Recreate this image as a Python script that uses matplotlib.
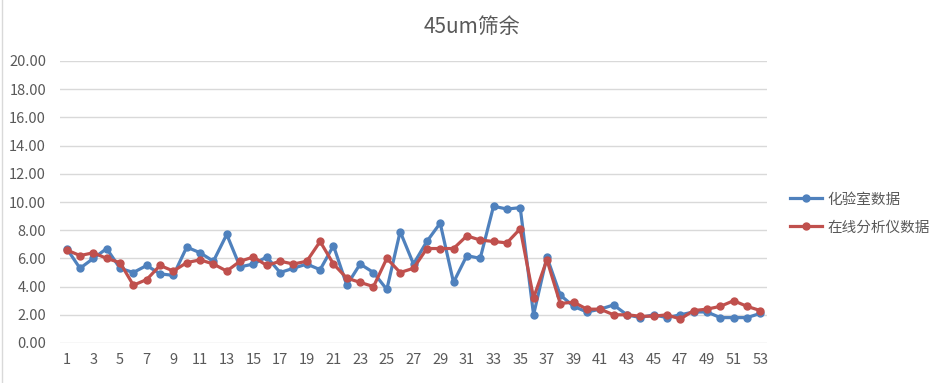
import numpy as np
import matplotlib.pyplot as plt
from matplotlib.lines import Line2D

plt.rcParams['font.family'] = ['Noto Sans CJK SC', 'DejaVu Sans']

# datos
x = np.arange(1, 54)
lab = [6.7, 5.3, 6.0, 6.7, 5.3, 5.0, 5.5, 4.9, 4.8, 6.8,
       6.4, 5.8, 7.7, 5.4, 5.6, 6.1, 5.0, 5.3, 5.6, 5.2,
       6.9, 4.1, 5.6, 5.0, 3.8, 7.9, 5.6, 7.2, 8.5, 4.3,
       6.2, 6.0, 9.7, 9.5, 9.6, 2.0, 6.1, 3.4, 2.6, 2.2,
       2.4, 2.7, 2.0, 1.8, 2.0, 1.8, 2.0, 2.2, 2.2, 1.8,
       1.8, 1.8, 2.1]
online = [6.6, 6.2, 6.4, 6.0, 5.7, 4.1, 4.5, 5.5, 5.1, 5.7,
          5.9, 5.6, 5.1, 5.8, 6.1, 5.5, 5.8, 5.6, 5.8, 7.2,
          5.6, 4.6, 4.3, 4.0, 6.0, 5.0, 5.3, 6.7, 6.7, 6.7,
          7.6, 7.3, 7.2, 7.1, 8.1, 3.2, 5.9, 2.8, 2.9, 2.4,
          2.4, 2.0, 2.0, 1.9, 1.9, 2.0, 1.7, 2.3, 2.4, 2.6,
          3.0, 2.6, 2.3]
series_names = ['化验室数据', '在线分析仪数据']
title = '45um筛余'

fig = plt.figure(figsize=(9.43, 3.83), dpi=100)
ax = fig.add_axes([60/943, 1 - 343/383, 707/943, 282/383])

ax.plot(x, lab, color='#4F81BD', linewidth=2.3, marker='o', markersize=5, label=series_names[0])
ax.plot(x, online, color='#C0504D', linewidth=2.3, marker='o', markersize=5, label=series_names[1])

ax.set_xlim(0.5, 53.5)
ax.set_ylim(0, 20)
ax.set_yticks(np.arange(0, 21, 2))
ax.set_yticklabels([f'{v:.2f}' for v in np.arange(0, 21, 2)])
ax.set_xticks(np.arange(1, 54, 2))
ax.tick_params(axis='both', length=0, labelsize=10.5, colors='#595959')
ax.tick_params(axis='y', pad=10)
ax.tick_params(axis='x', pad=7)
ax.grid(axis='y', color='#D9D9D9', linewidth=1)
ax.set_axisbelow(True)
for s in ax.spines.values():
    s.set_visible(False)

fig.text(0.5, 1 - 27/383, title, ha='center', va='center', fontsize=15, color='#595959')

# leyenda
ax.legend(loc='center left', bbox_to_anchor=(723/707, 0.5 - 11.5/282),
          frameon=False, fontsize=10.5, labelcolor='#595959', handlelength=2.2,
          handletextpad=0.35, labelspacing=0.95, borderpad=0)

# borde del grafico
fig.add_artist(Line2D([2/943, 2/943], [0, 1], color='#D9D9D9', linewidth=1))

plt.savefig('out.png', dpi=100)
